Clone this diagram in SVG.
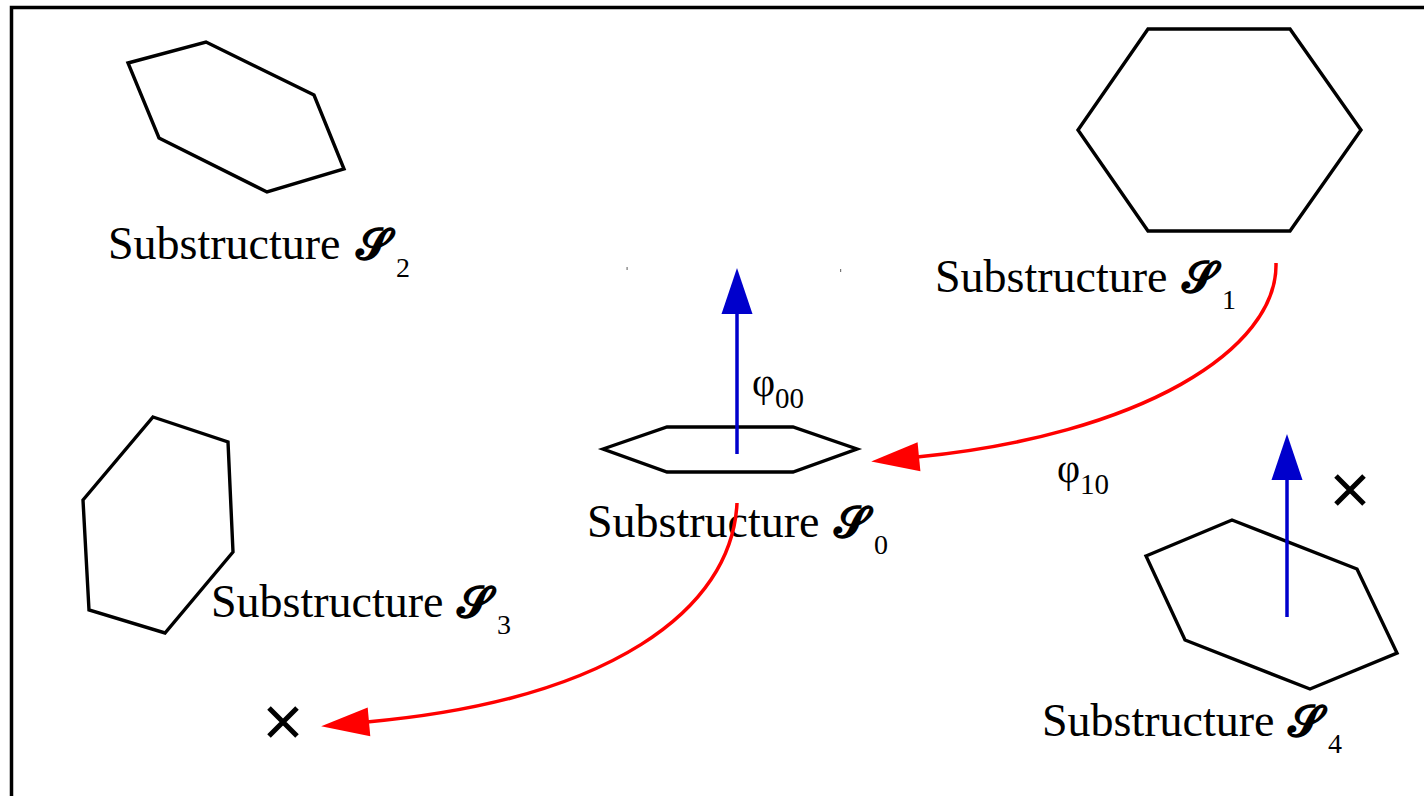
<svg xmlns="http://www.w3.org/2000/svg" width="1424" height="796" viewBox="0 0 1424 796">
<style>
.hex{fill:none;stroke:#000;stroke-width:3.4;stroke-linejoin:miter}
.lbl{font-family:"Liberation Serif","Times New Roman",serif;font-size:46px;fill:#000}
.scr{font-family:"DejaVu Serif","DejaVu Sans","Noto Sans",serif;font-weight:bold;font-size:44px}
.sub{font-size:28px}
.phi{font-family:"Liberation Serif","Times New Roman",serif;font-size:40px;fill:#000}
.phisub{font-size:29px}
.red{fill:none;stroke:#ff0000;stroke-width:3.5}
.blue{fill:none;stroke:#0000cc;stroke-width:3.5}
.cross{stroke:#000;stroke-width:5;fill:none}
</style>
<defs>
<marker id="ahRed" markerUnits="userSpaceOnUse" markerWidth="60" markerHeight="40" viewBox="0 -20 60 40" refX="0" refY="0" orient="auto" overflow="visible">
<path d="M-2,-14.5 L46,0 L-2,14.5 z" fill="#ff0000"/>
</marker>
<marker id="ahBlue" markerUnits="userSpaceOnUse" markerWidth="60" markerHeight="40" viewBox="0 -20 60 40" refX="0" refY="0" orient="auto" overflow="visible">
<path d="M-2,-15.5 L44,0 L-2,15.5 z" fill="#0000cc"/>
</marker>
</defs>
<rect width="1424" height="796" fill="#fff"/>
<rect id="frame" x="11.5" y="7.5" width="1430" height="800" fill="none" stroke="#000" stroke-width="3.5"/>
<rect x="626.5" y="267" width="1.2" height="3" fill="#777"/>
<rect x="840" y="269" width="1.2" height="3" fill="#777"/>

<g id="S2">
<polygon class="hex" points="128,63 206,42 314,95 344,169 267,192 159,138"/>
<text class="lbl" x="108" y="259">Substructure <tspan class="scr" x="356">𝓢</tspan><tspan class="sub" x="396" y="277">2</tspan></text>
</g>
<g id="S1">
<polygon class="hex" points="1148,29 1290,29 1361,130 1290,231 1148,231 1078,130"/>
<text class="lbl" x="935" y="292">Substructure <tspan class="scr" x="1182">𝓢</tspan><tspan class="sub" x="1222" y="309">1</tspan></text>
</g>
<g id="S0">
<polygon class="hex" points="603,449 667,427 793,427 857,449 793,472 667,472"/>
<text class="lbl" x="587" y="537">Substructure <tspan class="scr" x="834">𝓢</tspan><tspan class="sub" x="874" y="554">0</tspan></text>
</g>
<g id="S3">
<polygon class="hex" points="153,417 228,442 233,552 165,633 89,610 83,500"/>
<text class="lbl" x="211" y="617">Substructure <tspan class="scr" x="457">𝓢</tspan><tspan class="sub" x="497" y="634">3</tspan></text>
</g>
<g id="S4">
<polygon class="hex" points="1146,556 1232,520 1357,569 1397,653 1310,689 1185,640"/>
<text class="lbl" x="1042" y="736">Substructure <tspan class="scr" x="1288">𝓢</tspan><tspan class="sub" x="1328" y="753">4</tspan></text>
</g>
<g id="marks">
<path class="cross" d="M269,708 L297,736 M297,708 L269,736"/>
<path class="cross" d="M1336,476 L1364,504 M1364,476 L1336,504"/>
</g>
<g id="connectors">
<path class="blue" d="M737,454 L737,312" marker-end="url(#ahBlue)"/>
<path class="blue" d="M1287,617 L1287,478" marker-end="url(#ahBlue)"/>
<path class="red" d="M1276,263 C1278,350 1140,435 917,457" marker-end="url(#ahRed)"/>
<path class="red" d="M737,503 C732,610 610,700 367,722" marker-end="url(#ahRed)"/>
<text class="phi" x="752" y="396">φ<tspan class="phisub" y="408">00</tspan></text>
<text class="phi" x="1057" y="482">φ<tspan class="phisub" y="494">10</tspan></text>
</g>
</svg>
